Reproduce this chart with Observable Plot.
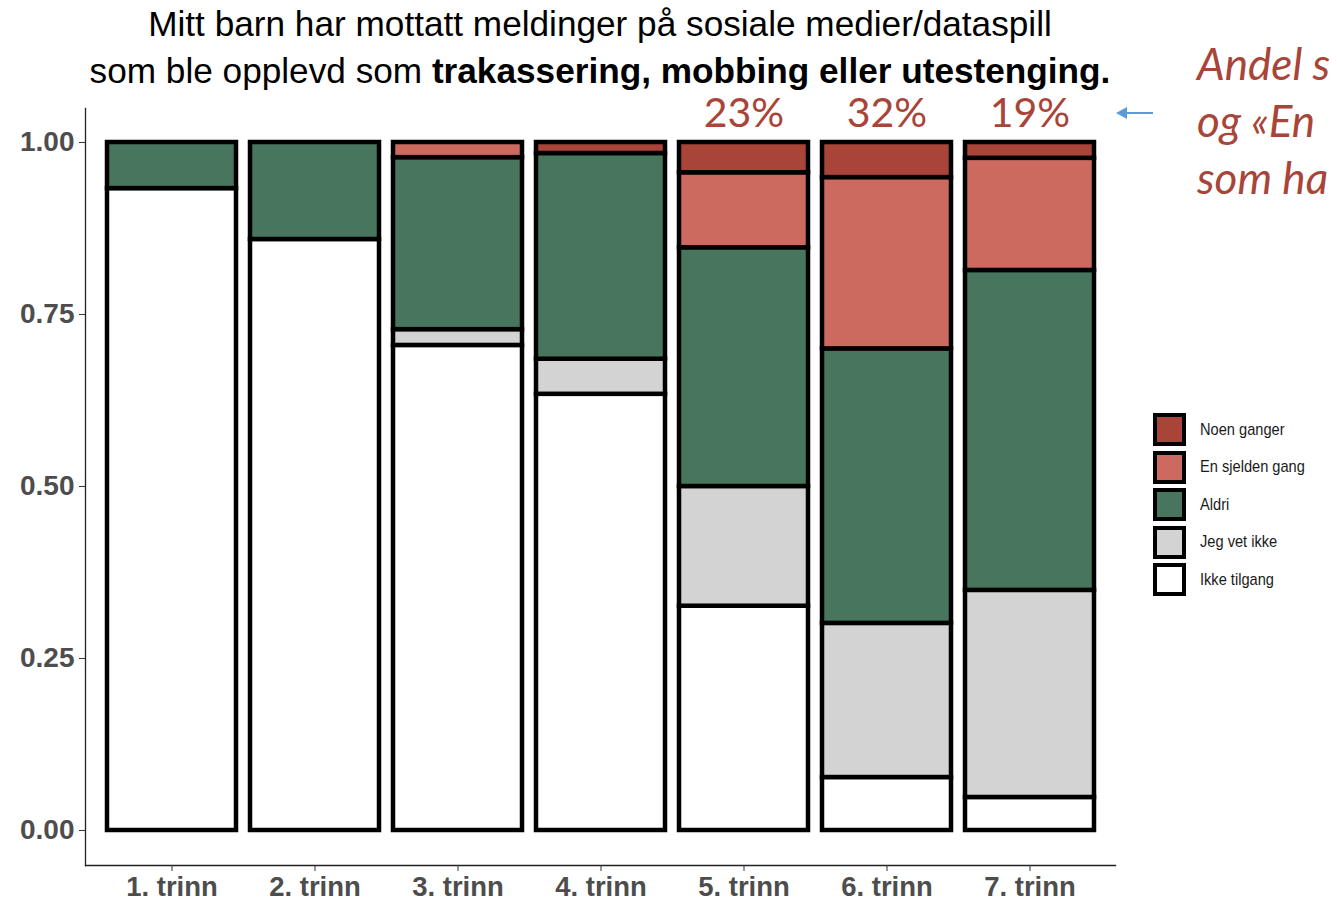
<!DOCTYPE html>
<html>
<head>
<meta charset="utf-8">
<script src="https://cdn.jsdelivr.net/npm/d3@7"></script>
<script src="https://cdn.jsdelivr.net/npm/@observablehq/plot@0.6"></script>
<style>
  html, body { margin: 0; padding: 0; background: #fff; overflow: hidden; }
  #wrap { position: relative; width: 1337px; height: 903px; overflow: hidden; font-family: "Liberation Sans", Arial, sans-serif; }
  #chart { position: absolute; left: 0; top: 0; }
  #title { position: absolute; left: 0; top: 0px; width: 1200px; text-align: center; font-size: 35.2px; line-height: 47px; color: #000; }
  #note { position: absolute; left: 1197px; top: 35px; white-space: nowrap; font-family: Lato, "Open Sans", sans-serif; font-style: italic; font-size: 44px; line-height: 57px; color: #a84438; }
  #arrow { position: absolute; left: 1110px; top: 100px; }
  #legend { position: absolute; left: 1153px; top: 411px; }
  .li { display: flex; align-items: center; height: 37.5px; }
  .sw { box-sizing: border-box; width: 33px; height: 33px; border: 4px solid #000; margin-right: 14px; flex: none; }
  .lt { font-size: 17px; color: #1a1a1a; display: inline-block; transform: scaleX(0.86); transform-origin: left center; white-space: nowrap; }
</style>
</head>
<body>
<div id="wrap">
  <div id="chart"></div>
  <div id="title">Mitt barn har mottatt meldinger på sosiale medier/dataspill<br>som ble opplevd som <b>trakassering, mobbing eller utestenging.</b></div>
  <div id="note">Andel s<br>og «En<br>som ha</div>
  <svg id="arrow" width="50" height="26"><line x1="12" y1="13" x2="43" y2="13" stroke="#5b9bd5" stroke-width="2"/><path d="M6,13 L17,7 L17,19 Z" fill="#5b9bd5"/></svg>
  <div id="legend"></div>
</div>
<script>
const grades = ["1. trinn", "2. trinn", "3. trinn", "4. trinn", "5. trinn", "6. trinn", "7. trinn"];
const series = ["Ikke tilgang", "Jeg vet ikke", "Aldri", "En sjelden gang", "Noen ganger"];
const ikkeTilgang   = [0.933, 0.859, 0.705, 0.634, 0.326, 0.077, 0.048];
const jegVetIkke    = [0.000, 0.000, 0.023, 0.051, 0.174, 0.224, 0.301];
const aldri         = [0.067, 0.141, 0.250, 0.299, 0.347, 0.399, 0.465];
const enSjeldenGang = [0.000, 0.000, 0.022, 0.000, 0.109, 0.249, 0.163];
const noenGanger    = [0.000, 0.000, 0.000, 0.016, 0.044, 0.051, 0.023];
const colors = ["#ffffff", "#d3d3d3", "#48755d", "#cd6a60", "#a84438"];
const pctGrades = ["5. trinn", "6. trinn", "7. trinn"];
const pctLabels = ["23%", "32%", "19%"];
const yTicks = [0, 0.25, 0.5, 0.75, 1];

const values = [ikkeTilgang, jegVetIkke, aldri, enSjeldenGang, noenGanger];
const data = grades.flatMap((g, i) => series.map((s, j) => ({grade: g, resp: s, value: values[j][i]})))
  .filter(d => d.value > 0);
const pct = pctGrades.map((g, i) => ({grade: g, label: pctLabels[i], top: 1}));

const chart = Plot.plot({
  width: 1337,
  height: 903,
  marginTop: 108,
  marginBottom: 38,
  marginLeft: 85,
  marginRight: 222,
  style: {fontFamily: "'Liberation Sans', Arial, sans-serif", background: "transparent", overflow: "visible"},
  x: {domain: grades, paddingInner: 0.1, paddingOuter: 0.15, axis: null},
  y: {domain: [0, 1], insetTop: 34, insetBottom: 35, axis: null},
  color: {domain: series, range: colors},
  marks: [
    Plot.barY(data, {x: "grade", y: "value", fill: "resp", order: series, stroke: "#000", strokeWidth: 4.5}),
    Plot.frame({anchor: "left", stroke: "#222", strokeWidth: 1.3}),
    Plot.frame({anchor: "bottom", stroke: "#222", strokeWidth: 1.3}),
    Plot.axisY({ticks: yTicks, tickFormat: d3.format(".2f"), tickSize: 6, tickPadding: 5, fontSize: 28, fontWeight: "bold", fill: "#4d4d4d", stroke: "#333", label: null}),
    Plot.axisX({tickSize: 6, tickPadding: 5, fontSize: 27.5, fontWeight: "bold", fill: "#4d4d4d", stroke: "#333", label: null}),
    Plot.text(pct, {x: "grade", y: "top", text: "label", dy: -29, fontSize: 41, fill: "#a84438", fontFamily: "Lato, 'Open Sans', sans-serif"})
  ]
});
document.getElementById("chart").appendChild(chart);

const legend = document.getElementById("legend");
series.slice().reverse().forEach(s => {
  const row = document.createElement("div");
  row.className = "li";
  const sw = document.createElement("div");
  sw.className = "sw";
  sw.style.background = colors[series.indexOf(s)];
  const lt = document.createElement("span");
  lt.className = "lt";
  lt.textContent = s;
  row.appendChild(sw);
  row.appendChild(lt);
  legend.appendChild(row);
});
</script>
</body>
</html>
